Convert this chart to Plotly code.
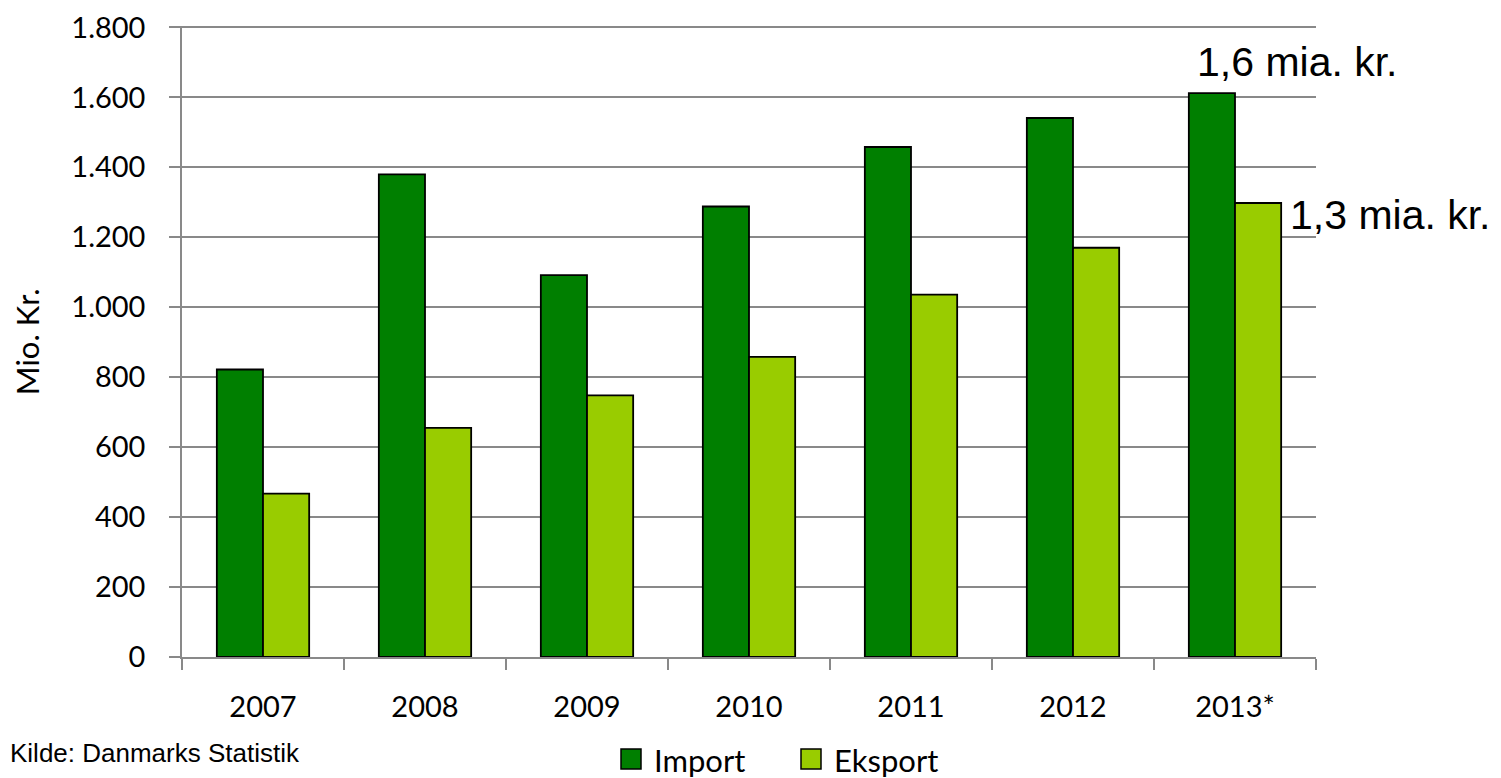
import plotly.graph_objects as go

years = ["2007", "2008", "2009", "2010", "2011", "2012", "2013*"]
import_vals = [822, 1380, 1092, 1288, 1458, 1541, 1612]
eksport_vals = [467, 655, 748, 858, 1036, 1170, 1298]

GRID = "#898989"
TICKFONT = dict(family="Lato", size=29, color="black")

fig = go.Figure()
fig.add_trace(go.Bar(x=years, y=import_vals, name="Import",
                     marker=dict(color="#007F00", line=dict(color="black", width=1.8))))
fig.add_trace(go.Bar(x=years, y=eksport_vals, name="Eksport",
                     marker=dict(color="#99CC00", line=dict(color="black", width=1.8))))

# the page body has an 8px margin, so the figure is 8px smaller each way
fig.update_layout(
    width=1493, height=770,
    margin=dict(l=174, r=185, t=18, b=121),
    plot_bgcolor="white", paper_bgcolor="white",
    barmode="group", bargap=0.43, bargroupgap=0,
    showlegend=False,
    separators=",.",
)
fig.update_xaxes(
    type="category", range=[-0.5, len(years) - 0.5], tickson="boundaries",
    ticks="outside", ticklen=11, tickcolor=GRID, tickwidth=1.5,
    showline=True, linecolor=GRID, linewidth=1.5, automargin=False,
    tickfont=TICKFONT, ticklabelstandoff=23, showgrid=False,
)
fig.update_yaxes(
    range=[0, 1804], tickvals=list(range(0, 1801, 200)), tickformat=",d",
    ticks="outside", ticklen=11, tickcolor=GRID, tickwidth=1.5,
    showline=True, linecolor=GRID, linewidth=1.5, automargin=False,
    showgrid=True, gridcolor=GRID, gridwidth=1.5, zeroline=False,
    tickfont=TICKFONT, ticklabelstandoff=18,
)

# value callouts on 2013
fig.add_annotation(x=years[-1], y=import_vals[-1], text="1,6 mia. kr.", showarrow=False,
                   xanchor="left", yanchor="bottom", xshift=-40, yshift=6,
                   font=dict(family="Liberation Sans", size=41, color="black"))
fig.add_annotation(x=years[-1], y=eksport_vals[-1], text="1,3 mia. kr.", showarrow=False,
                   xanchor="left", yanchor="middle", xshift=53, yshift=-12,
                   font=dict(family="Liberation Sans", size=41, color="black"))

# axis title and source
fig.add_annotation(xref="paper", yref="paper", x=-0.137, y=0.5, text="Mio. Kr.",
                   textangle=-90, showarrow=False, xanchor="center", yanchor="middle",
                   font=dict(family="Lato", size=31, color="black"))
fig.add_annotation(xref="paper", yref="paper", x=-0.1534, y=-0.152, text="Kilde: Danmarks Statistik",
                   showarrow=False, xanchor="left", yanchor="middle",
                   font=dict(family="Liberation Sans", size=26, color="black"))

# legend drawn by hand so the keys match the original size
legend_items = [("Import", "#007F00", 621), ("Eksport", "#99CC00", 801)]
pw, ph = 1134.0, 631.0
for label, color, px0 in legend_items:
    x0 = (px0 - 182) / pw
    x1 = (px0 + 20 - 182) / pw
    fig.add_shape(type="rect", xref="paper", yref="paper", x0=x0, x1=x1,
                  y0=(657 - 769) / ph, y1=(657 - 749) / ph,
                  fillcolor=color, line=dict(color="black", width=1.5))
    fig.add_annotation(xref="paper", yref="paper", x=(px0 + 31 - 182) / pw, y=(657 - 760) / ph,
                       text=label, showarrow=False, xanchor="left", yanchor="middle",
                       font=dict(family="Lato", size=31, color="black"))

fig.write_html("out.html")
